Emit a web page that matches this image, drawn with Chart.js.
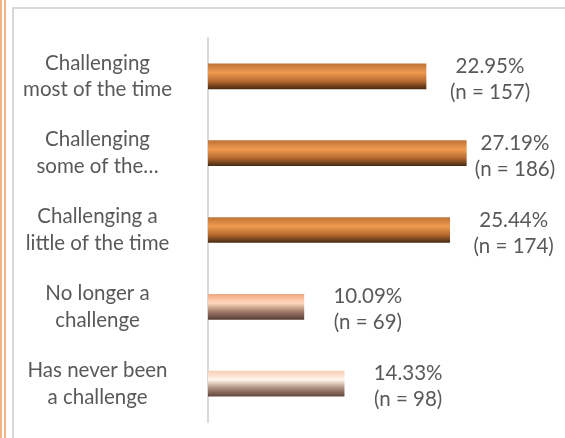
<!DOCTYPE html>
<html>
<head>
<meta charset="utf-8">
<script src="https://cdn.jsdelivr.net/npm/chart.js@4"></script>
<style>
    html, body { margin: 0; padding: 0; background: #fff; }
    body { width: 565px; height: 438px; position: relative; overflow: hidden; }
    .stripe { position: absolute; top: 0; bottom: 0; width: 2px; background: #f4b183; }
    #frame { position: absolute; left: 12px; top: 7px; right: -4px; bottom: -4px; border-top: 2px solid #d9d9d9; border-left: 2px solid #d9d9d9; }
    #wrap { position: absolute; left: 0; top: 0; width: 565px; height: 438px; }
</style>
</head>
<body>
<div class="stripe" style="left:0px"></div>
<div class="stripe" style="left:4px"></div>
<div id="frame"></div>
<div id="wrap"><canvas id="chart" width="565" height="438"></canvas></div>
<script>
document.addEventListener('DOMContentLoaded', function() {
    // Chart data
    const categories = [
        ['Challenging', 'most of the time'],
        ['Challenging', 'some of the\u2026'],
        ['Challenging a', 'little of the time'],
        ['No longer a', 'challenge'],
        ['Has never been', 'a challenge']
    ];
    const percentages = [22.95, 27.19, 25.44, 10.09, 14.33];
    const counts = [157, 186, 174, 69, 98];

    const textColor = '#595959';
    const fontFamily = 'Lato, "Open Sans", sans-serif';
    const fontSize = 20.5;
    const barThickness = 25;

    // gradient stops per bar (top -> bottom)
    const orangeStops = [[0, '#c07438'], [0.35, '#f09a50'], [0.7, '#b5692e'], [1, '#4a2a12']];
    const barStops = [
        orangeStops,
        orangeStops,
        orangeStops,
        [[0, '#f0a882'], [0.35, '#ffd8bc'], [0.7, '#a07868'], [1, '#5a4038']],
        [[0, '#f8d0b8'], [0.35, '#fff6ea'], [0.7, '#a88878'], [1, '#65483e']]
    ];

    function barGradient(context) {
        const chart = context.chart;
        const yScale = chart.scales.y;
        if (!yScale || context.dataIndex === undefined) return '#e08a40';
        const yc = yScale.getPixelForValue(context.dataIndex);
        if (!isFinite(yc)) return '#e08a40';
        const g = chart.ctx.createLinearGradient(0, yc - barThickness / 2, 0, yc + barThickness / 2);
        barStops[context.dataIndex].forEach(s => g.addColorStop(s[0], s[1]));
        return g;
    }

    // Two-line value labels to the right of each bar (kept inside the canvas)
    const valueLabels = {
        id: 'valueLabels',
        afterDatasetsDraw(chart) {
            const ctx = chart.ctx;
            const meta = chart.getDatasetMeta(0);
            ctx.save();
            ctx.fillStyle = textColor;
            ctx.font = fontSize + 'px ' + fontFamily;
            ctx.textAlign = 'center';
            ctx.textBaseline = 'middle';
            meta.data.forEach((bar, i) => {
                const x = Math.min(bar.x + 64, chart.width - 50);
                ctx.fillText(percentages[i].toFixed(2) + '%', x, bar.y - 10);
                ctx.fillText('(n = ' + counts[i] + ')', x, bar.y + 16);
            });
            ctx.restore();
        }
    };

    const ctx = document.getElementById('chart').getContext('2d');
    new Chart(ctx, {
        type: 'bar',
        data: {
            labels: categories,
            datasets: [{
                data: percentages,
                backgroundColor: barGradient,
                borderWidth: 0,
                barThickness: barThickness
            }]
        },
        options: {
            indexAxis: 'y',
            responsive: false,
            animation: false,
            layout: { padding: { top: 38, bottom: 16, right: 72, left: 0 } },
            plugins: {
                legend: { display: false },
                tooltip: { enabled: false }
            },
            scales: {
                x: {
                    display: false,
                    min: 0,
                    max: 30
                },
                y: {
                    afterFit: scale => {
                        scale.width = 208;
                        scale.paddingTop = 0;
                        scale.paddingBottom = 0;
                    },
                    grid: { display: false },
                    border: { display: true, color: '#d9d9d9', width: 2 },
                    ticks: {
                        color: textColor,
                        padding: 28,
                        crossAlign: 'center',
                        font: { family: fontFamily, size: fontSize, lineHeight: 1.3 }
                    }
                }
            }
        },
        plugins: [valueLabels]
    });
});
</script>
</body>
</html>
